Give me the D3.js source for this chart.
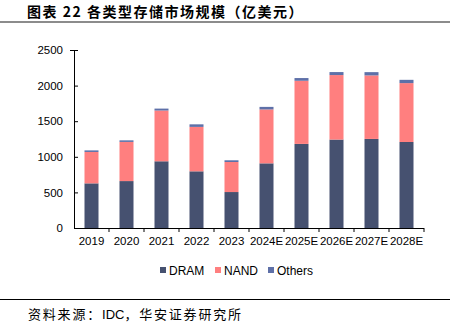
<!DOCTYPE html>
<html>
<head>
<meta charset="utf-8">
<script src="https://cdn.jsdelivr.net/npm/d3@7/dist/d3.min.js"></script>
<style>
  body { margin: 0; background: #fff; }
  text { font-family: "Liberation Sans", Arial, sans-serif; fill: #000; }
  .cjk { font-family: "Noto Sans CJK SC", sans-serif; }
</style>
</head>
<body>
<div id="chart-area"></div>
<script>
// data (亿美元)
var years = ["2019", "2020", "2021", "2022", "2023", "2024E", "2025E", "2026E", "2027E", "2028E"];
var dram   = [627, 659, 937, 796, 505, 908, 1181, 1242, 1251, 1208];
var nand   = [441, 550, 713, 624, 422, 757, 887, 906, 892, 827];
var others = [22, 22, 27, 36, 24, 36, 38, 42, 46, 46];
var series = ["DRAM", "NAND", "Others"];
var yTicks = [0, 500, 1000, 1500, 2000, 2500];

var colors = d3.scaleOrdinal()
    .domain(series)
    .range(["#465170", "#ff7f7f", "#5e70a8"]);

var W = 458, H = 325;
var margin = {left: 74, right: 34, top: 50, bottom: 97};
var width = W - margin.left - margin.right;
var height = H - margin.top - margin.bottom;

var svg = d3.select("#chart-area").append("svg")
    .attr("width", W)
    .attr("height", H);

// title + rules
svg.append("text")
    .attr("class", "cjk")
    .attr("x", 27)
    .attr("y", 17)
    .attr("font-size", "14px")
    .attr("font-weight", "bold")
    .attr("letter-spacing", "1.5px")
    .text("图表 22 各类型存储市场规模（亿美元）");

svg.append("rect")
    .attr("x", 0).attr("y", 21)
    .attr("width", 450).attr("height", 2)
    .attr("fill", "#8c8c8c");

svg.append("line")
    .attr("x1", 0).attr("x2", 450)
    .attr("y1", 299.5).attr("y2", 299.5)
    .attr("stroke", "#000")
    .attr("stroke-width", 1);

// source line: CJK spaced out, "IDC" kept tight
var src = svg.append("text")
    .attr("class", "cjk")
    .attr("x", 28)
    .attr("y", 319)
    .attr("font-size", "13px");
src.append("tspan").attr("letter-spacing", "1.8px").text("资料来源：");
src.append("tspan").attr("font-family", "Liberation Sans, Arial, sans-serif").text("IDC");
src.append("tspan").attr("letter-spacing", "1.8px").text("，华安证券研究所");

var g = svg.append("g")
    .attr("transform", "translate(" + margin.left + "," + margin.top + ")");

var x = d3.scaleBand()
    .domain(years)
    .range([0, width])
    .paddingInner(0.6)
    .paddingOuter(0.3);

var y = d3.scaleLinear()
    .domain([0, 2500])
    .range([height, 0]);

// stack
var table = years.map(function(yr, i) {
    return {year: yr, DRAM: dram[i], NAND: nand[i], Others: others[i]};
});
var stacked = d3.stack().keys(series)(table);

g.selectAll("g.layer")
    .data(stacked)
    .enter().append("g")
    .attr("class", "layer")
    .attr("fill", function(d) { return colors(d.key); })
    .selectAll("rect")
    .data(function(d) { return d; })
    .enter().append("rect")
    .attr("x", function(d) { return x(d.data.year); })
    .attr("width", x.bandwidth())
    .attr("y", function(d) { return y(d[1]); })
    .attr("height", function(d) { return y(d[0]) - y(d[1]); });

// y axis
var leftAxis = d3.axisLeft(y)
    .tickValues(yTicks)
    .tickFormat(d3.format("d"))
    .tickSize(4)
    .tickPadding(7);

var ya = g.append("g").attr("class", "y-axis").call(leftAxis);
ya.select(".domain").attr("d", "M-4,0.5H0.5V" + height);
ya.selectAll(".tick line").attr("x1", 0).attr("x2", 4);
ya.selectAll("text").attr("font-size", "11.5px").attr("font-family", "Liberation Sans, Arial, sans-serif");

// x axis, ticks between categories
var step = x.step();
var bottomAxis = d3.axisBottom(x).tickSize(0).tickPadding(9);
var xa = g.append("g")
    .attr("class", "x-axis")
    .attr("transform", "translate(0," + height + ")")
    .call(bottomAxis);
xa.select(".domain").attr("d", "M0,0.5H" + width);
xa.selectAll("text").attr("font-size", "11.5px").attr("font-family", "Liberation Sans, Arial, sans-serif");
d3.range(1, years.length + 1).forEach(function(i) {
    xa.append("line")
        .attr("x1", i * step).attr("x2", i * step)
        .attr("y1", 0).attr("y2", 4)
        .attr("stroke", "#000");
});

// legend
var legendX = [160, 215, 268];
var legend = svg.append("g").attr("transform", "translate(0,270)");
series.forEach(function(s, i) {
    var row = legend.append("g").attr("transform", "translate(" + legendX[i] + ",0)");
    row.append("rect")
        .attr("x", 0).attr("y", -3)
        .attr("width", 6).attr("height", 6)
        .attr("fill", colors(s));
    row.append("text")
        .attr("x", 9)
        .attr("y", 4.5)
        .attr("font-size", "12px")
        .text(s);
});
</script>
</body>
</html>
